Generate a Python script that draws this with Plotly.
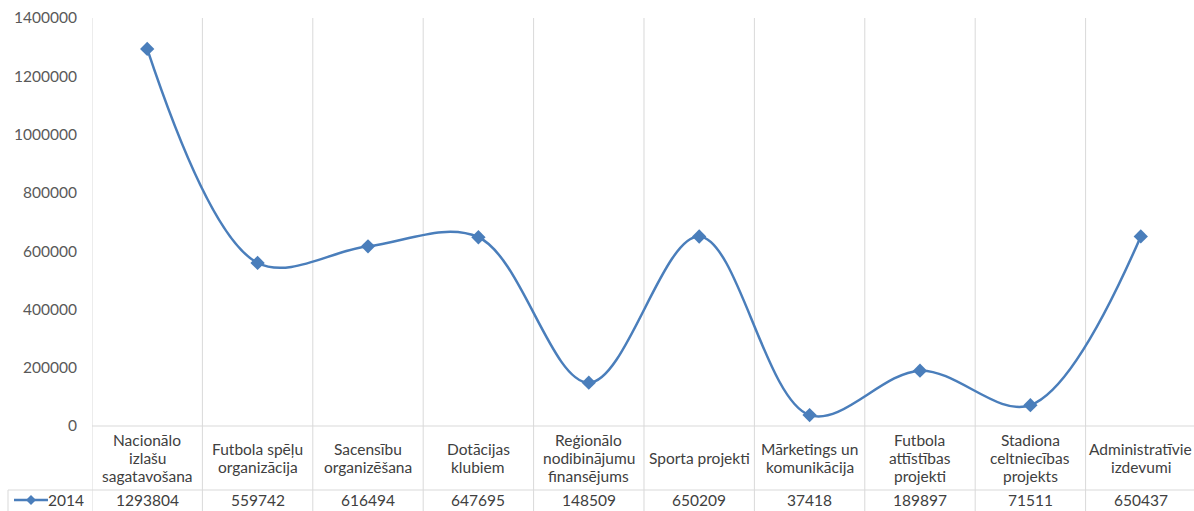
import plotly.graph_objects as go

categories = [
    "Nacionālo<br>izlašu<br>sagatavošana",
    "Futbola spēļu<br>organizācija",
    "Sacensību<br>organizēšana",
    "Dotācijas<br>klubiem",
    "Reģionālo<br>nodibinājumu<br>finansējums",
    "Sporta projekti",
    "Mārketings un<br>komunikācija",
    "Futbola<br>attīstības<br>projekti",
    "Stadiona<br>celtniecības<br>projekts",
    "Administratīvie<br>izdevumi",
]
series_name = "2014"
values_2014 = [1293804, 559742, 616494, 647695, 148509, 650209, 37418, 189897, 71511, 650437]
y_ticks = [0, 200000, 400000, 600000, 800000, 1000000, 1200000, 1400000]

LINE_COLOR = "#4A7EBB"
GRID_COLOR = "#D9D9D9"
TEXT_COLOR = "#404040"
FONT = "Lato"
FS = 15.5
PLOT_W = 1102
PLOT_H = 408

fig = go.Figure()

fig.add_trace(go.Scatter(
    x=list(range(len(values_2014))),
    y=values_2014,
    mode="lines+markers",
    name=series_name,
    line=dict(color=LINE_COLOR, width=2.5, shape="spline", smoothing=1),
    marker=dict(symbol="diamond", size=11, color=LINE_COLOR),
    showlegend=False,
))

# vertical gridlines at category boundaries, running down through the data table
for i in range(len(categories) + 1):
    fig.add_shape(
        type="line", xref="x", yref="paper",
        x0=i - 0.5, x1=i - 0.5, y0=-0.215, y1=1,
        line=dict(color=GRID_COLOR, width=1),
        layer="below",
    )

# axis line and table row separator
fig.add_shape(type="line", xref="paper", yref="paper", x0=0, x1=1, y0=0, y1=0,
              line=dict(color=GRID_COLOR, width=1))
fig.add_shape(type="line", xref="paper", yref="paper", x0=-84 / PLOT_W, x1=1,
              y0=-64 / PLOT_H, y1=-64 / PLOT_H, line=dict(color=GRID_COLOR, width=1))
fig.add_shape(type="line", xref="paper", yref="paper", x0=-84 / PLOT_W, x1=-84 / PLOT_W,
              y0=-64 / PLOT_H, y1=-0.215, line=dict(color=GRID_COLOR, width=1))

# legend key in the table
fig.add_shape(type="line", xref="paper", yref="paper", x0=-78 / PLOT_W, x1=-44 / PLOT_W,
              y0=-74 / PLOT_H, y1=-74 / PLOT_H, line=dict(color=LINE_COLOR, width=2.5))
fig.add_shape(
    type="path", xref="paper", yref="paper",
    path="M {0},{1} L {2},{3} L {0},{4} L {5},{3} Z".format(
        -61 / PLOT_W, -69 / PLOT_H, -56 / PLOT_W, -74 / PLOT_H, -79 / PLOT_H, -66 / PLOT_W),
    fillcolor=LINE_COLOR, line=dict(color=LINE_COLOR, width=0),
)
fig.add_annotation(xref="paper", yref="paper", x=-6 / PLOT_W, y=-74 / PLOT_H,
                   text=series_name, showarrow=False, xanchor="right", yanchor="middle",
                   font=dict(family=FONT, size=FS, color=TEXT_COLOR))

# category labels (one annotation per line, 18px line pitch) and table values
for i, (cat, val) in enumerate(zip(categories, values_2014)):
    lines = cat.split("<br>")
    for k, txt in enumerate(lines):
        py = 32 + (k - (len(lines) - 1) / 2) * 18
        fig.add_annotation(xref="x", yref="paper", x=i, y=-py / PLOT_H, text=txt,
                           showarrow=False, xanchor="center", yanchor="middle",
                           font=dict(family=FONT, size=FS, color=TEXT_COLOR))
    fig.add_annotation(xref="x", yref="paper", x=i, y=-74 / PLOT_H, text=str(val),
                       showarrow=False, xanchor="center", yanchor="middle",
                       font=dict(family=FONT, size=FS, color=TEXT_COLOR))

fig.update_xaxes(range=[-0.5, 9.482], showgrid=False, showticklabels=False,
                 zeroline=False, showline=False)
fig.update_yaxes(range=[0, 1400000], tickvals=y_ticks, tickformat="d", showgrid=False,
                 zeroline=False, showline=False, ticklabelstandoff=14,
                 tickfont=dict(family=FONT, size=FS, color="#595959"))

fig.update_layout(
    width=1194, height=511,
    margin=dict(l=92, r=0, t=18, b=85),
    plot_bgcolor="white", paper_bgcolor="white",
    font=dict(family=FONT),
)

fig.write_html("out.html", config={"displayModeBar": False},
               post_script="document.body.style.margin='0';")
